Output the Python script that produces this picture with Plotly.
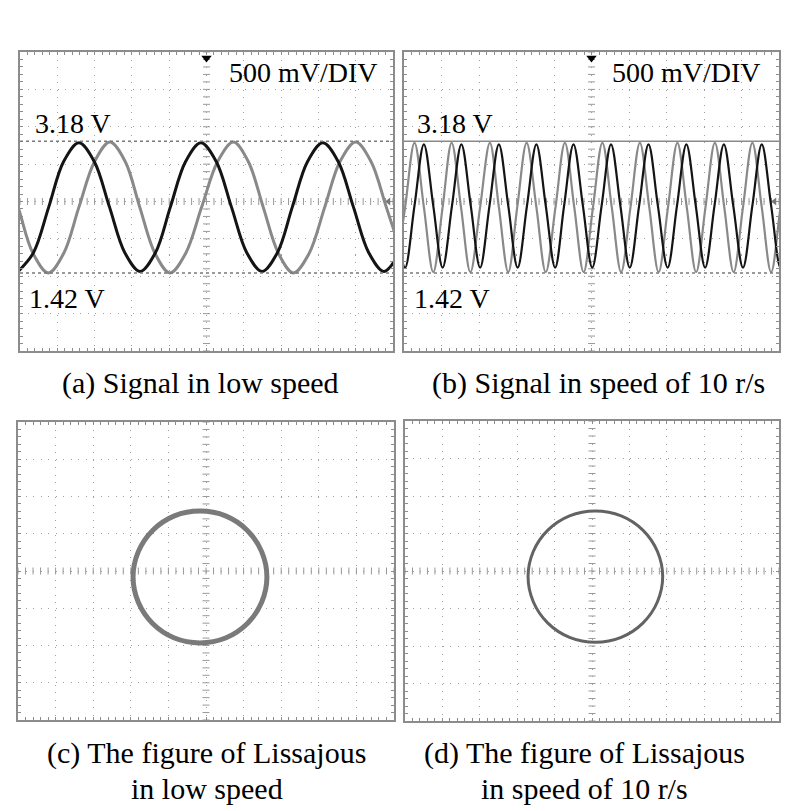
import numpy as np
import plotly.graph_objects as go

W, H = 800, 811
FONT = "Liberation Serif, Times New Roman, serif"

# ---------------- data ----------------
V_PER_DIV = 0.5          # 500 mV/DIV
SCREEN_CENTER_V = 2.375  # voltage at the centre graticule line
LEVEL_HIGH = 3.18
LEVEL_LOW = 1.42
LEVEL_TEXT = ["3.18 V", "1.42 V"]
SCALE_TEXT = "500 mV/DIV"
CAPTIONS = [["(a) Signal in low speed"],
            ["(b) Signal in speed of 10 r/s"],
            ["(c) The figure of Lissajous", "in low speed"],
            ["(d) The figure of Lissajous", "in speed of 10 r/s"]]

# (a) low speed: time (div) / voltage (V)
a_black_t = [-0.05, 0.36, 0.77, 1.17, 1.58, 1.99, 2.40, 2.81, 3.22, 3.63, 4.03, 4.44, 4.85,
             5.26, 5.67, 6.08, 6.49, 6.90, 7.30, 7.71, 8.12, 8.53, 8.94, 9.35, 9.76, 10.17]
a_black_v = [1.44, 1.69, 2.30, 2.91, 3.16, 2.91, 2.30, 1.69, 1.44, 1.69, 2.30, 2.91, 3.16,
             2.91, 2.30, 1.69, 1.44, 1.69, 2.30, 2.91, 3.16, 2.91, 2.30, 1.69, 1.44, 1.69]
a_gray_t = [-0.87, -0.46, -0.05, 0.35, 0.76, 1.17, 1.58, 2.00, 2.41, 2.82, 3.21, 3.62, 4.02, 4.44,
            4.87, 5.30, 5.72, 6.12, 6.52, 6.93, 7.33, 7.75, 8.17, 8.58, 9.00, 9.41, 9.82, 10.23]
a_gray_v = [3.17, 2.91, 2.30, 1.68, 1.42, 1.68, 2.30, 2.91, 3.17, 2.91, 2.30, 1.68, 1.42, 1.68,
            2.30, 2.91, 3.17, 2.91, 2.30, 1.68, 1.42, 1.68, 2.30, 2.91, 3.17, 2.91, 2.30, 1.68]

# (b) speed of 10 r/s
b_black_t = [-0.22, 0.03, 0.28, 0.53, 0.78, 1.03, 1.28, 1.53, 1.78, 2.03, 2.28, 2.53, 2.78, 3.03,
             3.28, 3.53, 3.78, 4.03, 4.27, 4.52, 4.77, 5.02, 5.27, 5.52, 5.77, 6.02, 6.27, 6.52,
             6.77, 7.03, 7.28, 7.53, 7.78, 8.03, 8.28, 8.53, 8.78, 9.04, 9.29, 9.54, 9.79, 10.04, 10.29]
b_black_v = [2.32, 1.49, 2.32, 3.14, 2.32, 1.49, 2.32, 3.14, 2.32, 1.49, 2.32, 3.14, 2.32, 1.49,
             2.32, 3.14, 2.32, 1.49, 2.32, 3.14, 2.32, 1.49, 2.32, 3.14, 2.32, 1.49, 2.32, 3.14,
             2.32, 1.49, 2.32, 3.14, 2.32, 1.49, 2.32, 3.14, 2.32, 1.49, 2.32, 3.14, 2.32, 1.49, 2.32]
b_gray_t = [-0.22, 0.03, 0.28, 0.53, 0.78, 1.03, 1.27, 1.52, 1.77, 2.03, 2.29, 2.53, 2.78, 3.02,
            3.27, 3.53, 3.78, 4.04, 4.29, 4.54, 4.79, 5.04, 5.29, 5.54, 5.79, 6.04, 6.29, 6.54,
            6.79, 7.04, 7.29, 7.54, 7.79, 8.04, 8.29, 8.54, 8.79, 9.04, 9.29, 9.54, 9.79, 10.04, 10.29]
b_gray_v = [1.43, 2.30, 3.16, 2.30, 1.43, 2.30, 3.16, 2.30, 1.43, 2.30, 3.16, 2.30, 1.43, 2.30,
            3.16, 2.30, 1.43, 2.30, 3.16, 2.30, 1.43, 2.30, 3.16, 2.30, 1.43, 2.30, 3.16, 2.30,
            1.43, 2.30, 3.16, 2.30, 1.43, 2.30, 3.16, 2.30, 1.43, 2.30, 3.16, 2.30, 1.43, 2.30, 3.16]

# (c) Lissajous, low speed (divisions)
c_x = [1.62, 1.48, 1.10, 0.52, -0.16, -0.84, -1.42, -1.80, -1.94, -1.80, -1.42, -0.84, -0.16,
       0.52, 1.10, 1.48, 1.62]
c_y = [-0.16, 0.52, 1.09, 1.48, 1.61, 1.48, 1.09, 0.52, -0.16, -0.84, -1.41, -1.80, -1.93,
       -1.80, -1.41, -0.84, -0.16]
# (d) Lissajous, 10 r/s
d_x = [1.89, 1.75, 1.36, 0.78, 0.09, -0.60, -1.18, -1.57, -1.71, -1.57, -1.18, -0.60, 0.09,
       0.78, 1.36, 1.75, 1.89]
d_y = [-0.15, 0.52, 1.09, 1.47, 1.60, 1.47, 1.09, 0.52, -0.15, -0.82, -1.39, -1.77, -1.90,
       -1.77, -1.39, -0.82, -0.15]

TRIGGER_T = 5.0

# ---------------- layout geometry (pixels) ----------------
PANELS = [  # x0, x1, y0(top), y1(bottom)
    (20, 393, 52, 351),
    (404, 779, 52, 351),
    (18, 394, 422, 720),
    (405, 779, 421, 721),
]
NX, NY = 10, 8
GRID = "#a0a0a0"
FRAME = "#8c8c8c"
BLACK = "#141414"
GRAY = "#898989"

fig = go.Figure()
layout = dict(width=W, height=H, margin=dict(l=0, r=0, t=0, b=0),
              paper_bgcolor="white", plot_bgcolor="white", showlegend=False,
              font=dict(family=FONT, color="black"))
shapes, annotations = [], []

for i, (x0, x1, y0, y1) in enumerate(PANELS):
    n = "" if i == 0 else str(i + 1)
    scope = i < 2
    if scope:
        yr = [SCREEN_CENTER_V - NY / 2 * V_PER_DIV, SCREEN_CENTER_V + NY / 2 * V_PER_DIV]
        ydt, yt0 = V_PER_DIV, yr[0]
        xr = [0, NX]
        xt0 = 0
    else:
        yr = [-NY / 2, NY / 2]
        ydt, yt0 = 1, -NY / 2
        xr = [-NX / 2, NX / 2]
        xt0 = -NX / 2
    common = dict(showgrid=True, gridcolor=GRID, gridwidth=1, griddash="1px,6.5px",
                  showline=True, linecolor=FRAME, linewidth=1.5, mirror="ticks",
                  ticks="inside", ticklen=3, tickcolor=FRAME, tickwidth=1,
                  showticklabels=False, zeroline=False, fixedrange=True)
    layout["xaxis" + n] = dict(common, domain=[x0 / W, x1 / W], range=xr, tick0=xt0, dtick=1,
                               anchor="y" + n,
                               minor=dict(dtick=0.2, tick0=xt0, ticks="inside", ticklen=3,
                                          tickcolor=FRAME, showgrid=False))
    layout["yaxis" + n] = dict(common, domain=[1 - y1 / H, 1 - y0 / H], range=yr, tick0=yt0,
                               dtick=ydt, anchor="x" + n,
                               minor=dict(dtick=ydt / 5, tick0=yt0, ticks="inside", ticklen=3,
                                          tickcolor=FRAME, showgrid=False))
    xa, ya = "x" + n, "y" + n
    # centre graticule tick marks
    xc = (xr[0] + xr[1]) / 2
    yc = (yr[0] + yr[1]) / 2
    ys = np.linspace(yr[0], yr[1], NY * 5 + 1)
    xs = np.linspace(xr[0], xr[1], NX * 5 + 1)
    fig.add_trace(go.Scatter(x=[xc] * len(ys), y=ys, mode="markers", xaxis=xa, yaxis=ya,
                             marker=dict(symbol="line-ew", size=5, line=dict(color="#999", width=1)),
                             hoverinfo="skip"))
    fig.add_trace(go.Scatter(x=xs, y=[yc] * len(xs), mode="markers", xaxis=xa, yaxis=ya,
                             marker=dict(symbol="line-ns", size=5, line=dict(color="#999", width=1)),
                             hoverinfo="skip"))

    if scope:
        # reference level lines
        shapes.append(dict(type="line", xref=xa + " domain", yref=ya, x0=0, x1=1,
                           y0=LEVEL_HIGH, y1=LEVEL_HIGH,
                           line=dict(color="#7a7a7a" if i == 0 else "#8a8a8a",
                                     width=1.5, dash="dot" if i == 0 else "solid")))
        shapes.append(dict(type="line", xref=xa + " domain", yref=ya, x0=0, x1=1,
                           y0=LEVEL_LOW, y1=LEVEL_LOW,
                           line=dict(color="#7a7a7a", width=1.5, dash="dot")))
        hx = 0.035 if i == 0 else 0.029
        lx = 0.019 if i == 0 else 0.021
        sx = 0.965 if i == 0 else 0.957
        annotations.append(dict(text=LEVEL_TEXT[0], xref=xa + " domain", yref=ya + " domain",
                                x=hx, y=0.7625, xanchor="left", yanchor="middle", showarrow=False,
                                font=dict(size=28, family=FONT, color="black")))
        annotations.append(dict(text=LEVEL_TEXT[1], xref=xa + " domain", yref=ya + " domain",
                                x=lx, y=0.177, xanchor="left", yanchor="middle", showarrow=False,
                                font=dict(size=28, family=FONT, color="black")))
        annotations.append(dict(text=SCALE_TEXT, xref=xa + " domain", yref=ya + " domain",
                                x=sx, y=0.933, xanchor="right", yanchor="middle", showarrow=False,
                                font=dict(size=28, family=FONT, color="black")))
        # trigger markers
        fig.add_trace(go.Scatter(x=[TRIGGER_T], y=[yr[1] - 0.08], mode="markers", xaxis=xa, yaxis=ya,
                                 marker=dict(symbol="triangle-down", size=9, color="black"),
                                 cliponaxis=False, hoverinfo="skip"))
        fig.add_trace(go.Scatter(x=[xr[1] - 0.12], y=[SCREEN_CENTER_V], mode="markers", xaxis=xa,
                                 yaxis=ya, marker=dict(symbol="triangle-left", size=7, color="#777"),
                                 cliponaxis=False, hoverinfo="skip"))

layout["shapes"] = shapes

# waveforms
fig.add_trace(go.Scatter(x=a_gray_t, y=a_gray_v, mode="lines", xaxis="x", yaxis="y",
                         line=dict(color=GRAY, width=3, shape="spline", smoothing=1)))
fig.add_trace(go.Scatter(x=a_black_t, y=a_black_v, mode="lines", xaxis="x", yaxis="y",
                         line=dict(color=BLACK, width=3, shape="spline", smoothing=1)))
fig.add_trace(go.Scatter(x=b_gray_t, y=b_gray_v, mode="lines", xaxis="x2", yaxis="y2",
                         line=dict(color=GRAY, width=2.2, shape="spline", smoothing=1)))
fig.add_trace(go.Scatter(x=b_black_t, y=b_black_v, mode="lines", xaxis="x2", yaxis="y2",
                         line=dict(color=BLACK, width=2.2, shape="spline", smoothing=1)))
# Lissajous figures
fig.add_trace(go.Scatter(x=c_x, y=c_y, mode="lines", xaxis="x3", yaxis="y3",
                         line=dict(color="#7a7a7a", width=5, shape="spline", smoothing=1)))
fig.add_trace(go.Scatter(x=d_x, y=d_y, mode="lines", xaxis="x4", yaxis="y4",
                         line=dict(color="#636363", width=3, shape="spline", smoothing=1)))

# captions
CAP_POS = [(201, [383]), (598, [383]), (207, [753, 788]), (584, [753, 788])]
for (cxp, ylist), lines in zip(CAP_POS, CAPTIONS):
    for yp, txt in zip(ylist, lines):
        annotations.append(dict(text=txt, xref="paper", yref="paper", x=cxp / W, y=1 - yp / H,
                                xanchor="center", yanchor="middle", showarrow=False,
                                font=dict(size=30, family=FONT, color="black")))
layout["annotations"] = annotations
fig.update_layout(**layout)
fig.write_html("out.html", config={"displayModeBar": False},
               post_script="document.body.style.margin='0px';")
